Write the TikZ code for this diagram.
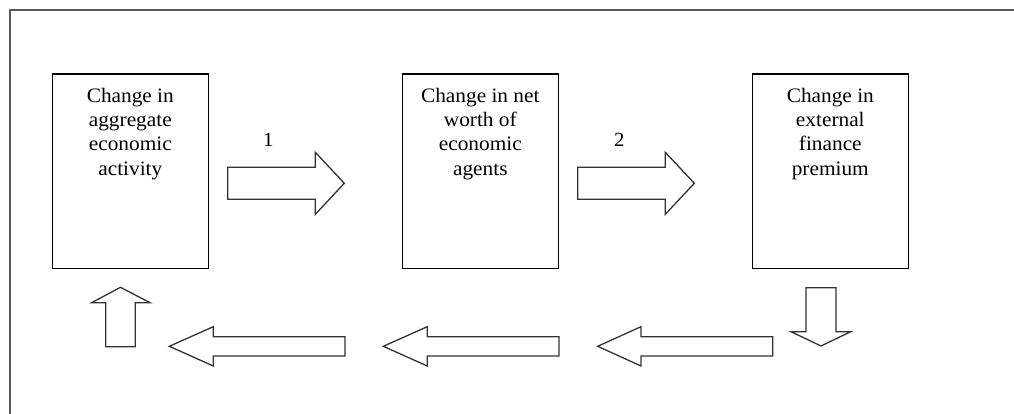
\documentclass[tikz,border=0pt]{standalone}
\usepackage{fontspec}
\setmainfont{Liberation Serif}[FakeStretch=1.04]
\newcommand\leftblk[3]{% tip x, head base x, tail x
  \draw[blk] (#3,336.7) -- (#2,336.7) -- (#2,326.7) -- (#1,346.3) -- (#2,366) -- (#2,356) -- (#3,356) -- cycle;}
\newcommand\rightblk[3]{% tail x, head base x, tip x
  \draw[blk] (#1,167.3) -- (#2,167.3) -- (#2,152.3) -- (#3,183.3) -- (#2,214.3) -- (#2,199.3) -- (#1,199.3) -- cycle;}
\begin{document}
\begin{tikzpicture}[x=1pt,y=-1pt,
  frame/.style={draw=black!65,line width=1.7pt},
  box/.style={draw=black,line width=1.2pt,minimum width=156pt,minimum height=194.3pt,inner sep=0pt},
  txt/.style={align=center,inner sep=0pt,anchor=north,font=\fontsize{20.5}{24.2}\selectfont},
  num/.style={font=\fontsize{20}{24}\selectfont,anchor=base,inner sep=0pt},
  blk/.style={draw=black!80,line width=1.3pt,line join=miter}]
\useasboundingbox (0,0) rectangle (1014,414);
\draw[frame] (9.7,414) -- (9.7,9.7) -- (1014,9.7);
% boxes
\node[box] (b1) at (130.3,171.2) {};
\node[box] (b2) at (480.3,171.2) {};
\node[box] (b3) at (830.3,171.2) {};
\node[txt] (t1) at ([yshift=-14.7pt]b1.north) {Change in\\aggregate\\economic\\activity};
\node[txt] (t2) at ([yshift=-14.7pt]b2.north) {Change in net\\worth of\\economic\\agents};
\node[txt] (t3) at ([yshift=-14.7pt]b3.north) {Change in\\external\\finance\\premium};
% labels
\node[num] (n1) at (268.3,146.7) {1};
\node[num] (n2) at (619.3,146.7) {2};
% block arrows
\rightblk{227.7}{315.3}{344.3}
\rightblk{577.7}{665.3}{694.3}
\draw[blk] (806,287.7) -- (836,287.7) -- (836,331.7) -- (850.7,331.7) -- (821,346) -- (791,331.7) -- (806,331.7) -- cycle;
\leftblk{597.7}{641}{772.7}
\leftblk{383.3}{427.3}{559}
\leftblk{169.3}{213.3}{345}
\draw[blk] (105.7,346.7) -- (105.7,302.7) -- (91.7,302.7) -- (120.5,287.3) -- (150,302.7) -- (135.3,302.7) -- (135.3,346.7) -- cycle;
\end{tikzpicture}
\end{document}
